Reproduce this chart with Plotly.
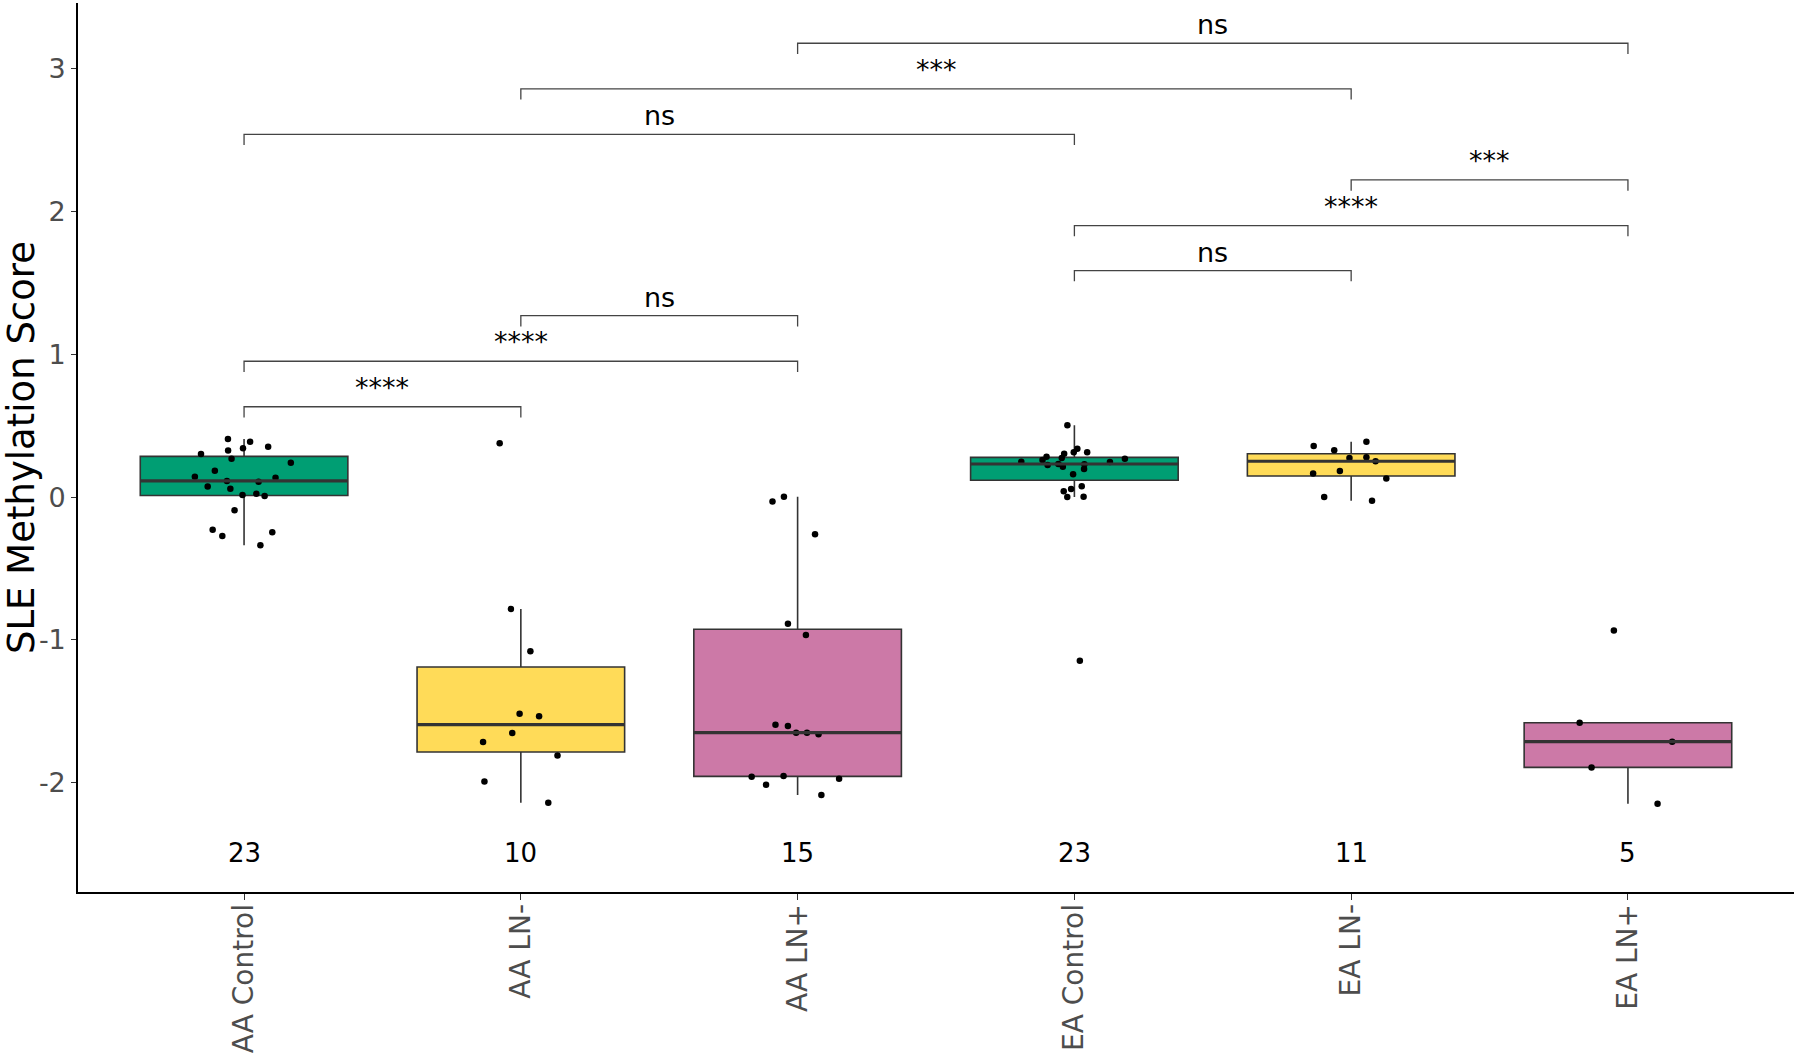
import numpy as np
import plotly.graph_objects as go

categories = ["AA Control", "AA LN-", "AA LN+", "EA Control", "EA LN-", "EA LN+"]

aa_control = [0.407, 0.388, 0.353, 0.343, 0.327, 0.302, 0.268, 0.240, 0.185, 0.143, 0.135, 0.113,
              0.108, 0.075, 0.059, 0.024, 0.015, 0.008, -0.093, -0.228, -0.247, -0.273, -0.338]
aa_ln_neg = [0.378, -0.784, -1.081, -1.518, -1.536, -1.653, -1.716, -1.810, -1.992, -2.141]
aa_ln_pos = [0.003, -0.030, -0.261, -0.887, -0.966, -1.595, -1.604, -1.651, -1.651, -1.662,
             -1.954, -1.959, -1.973, -2.015, -2.088]
ea_control = [0.503, 0.339, 0.314, 0.314, 0.304, 0.283, 0.274, 0.269, 0.260, 0.248, 0.246, 0.231,
              0.232, 0.225, 0.213, 0.197, 0.160, 0.076, 0.057, 0.041, 0.003, 0.001, -1.146]
ea_ln_neg = [0.388, 0.358, 0.328, 0.279, 0.274, 0.251, 0.183, 0.166, 0.130, 0.001, -0.025]
ea_ln_pos = [-0.934, -1.581, -1.714, -1.894, -2.149]

groups = [aa_control, aa_ln_neg, aa_ln_pos, ea_control, ea_ln_neg, ea_ln_pos]
colors = ["#009E73", "#FFDB58", "#CC79A7", "#009E73", "#FFDB58", "#CC79A7"]

# significance comparisons: (group a, group b, label, bracket height)
comp_a = [0, 0, 1, 3, 3, 4, 0, 1, 2]
comp_b = [1, 2, 2, 4, 5, 5, 3, 4, 5]
comp_labels = ["****", "****", "ns", "ns", "****", "***", "ns", "***", "ns"]
comp_y = [0.633, 0.952, 1.271, 1.587, 1.902, 2.222, 2.542, 2.860, 3.180]

y_tickvals = [-2, -1, 0, 1, 2, 3]
y_ticktext = ["-2", "-1", "0", "1", "2", "3"]

COUNT_Y = -2.494
BOX_W = 0.75
TIP = 0.075
FONT = "DejaVu Sans"

fig = go.Figure()
shapes = []
annotations = []

for i, (cat, vals, col) in enumerate(zip(categories, groups, colors)):
    v = np.array(vals)
    q1, med, q3 = np.percentile(v, [25, 50, 75])
    iqr = q3 - q1
    lf = v[v >= q1 - 1.5 * iqr].min()
    uf = v[v <= q3 + 1.5 * iqr].max()
    fig.add_trace(go.Box(
        x=[cat], q1=[q1], median=[med], q3=[q3], lowerfence=[lf], upperfence=[uf],
        width=BOX_W, whiskerwidth=0, fillcolor=col, line=dict(color="#333333", width=1.6),
        boxpoints=False, showlegend=False, hoverinfo="skip"))
    shapes.append(dict(type="line", xref="x", yref="y", x0=i - BOX_W / 2, x1=i + BOX_W / 2,
                       y0=med, y1=med, line=dict(color="#333333", width=3.2), layer="above"))
    fig.add_trace(go.Box(
        x=[cat] * len(vals), y=vals, boxpoints="all", jitter=0.55, pointpos=0, width=BOX_W,
        whiskerwidth=0, fillcolor="rgba(0,0,0,0)", line=dict(width=0, color="rgba(0,0,0,0)"),
        marker=dict(color="black", size=6.5), showlegend=False, hoveron="points"))
    annotations.append(dict(x=cat, y=COUNT_Y, text=str(len(vals)), showarrow=False,
                            xref="x", yref="y", font=dict(family=FONT, size=26, color="black")))

for a, b, lab, yy in zip(comp_a, comp_b, comp_labels, comp_y):
    shapes.append(dict(type="path", xref="x", yref="y",
                       path=f"M {a},{yy - TIP} L {a},{yy} L {b},{yy} L {b},{yy - TIP}",
                       line=dict(color="#444444", width=1.3)))
    annotations.append(dict(x=(a + b) / 2, y=yy, text=lab, showarrow=False, xref="x", yref="y",
                            yanchor="bottom", yshift=1 if lab == "ns" else 2,
                            font=dict(family=FONT, size=27, color="black")))

fig.update_layout(
    width=1800, height=1060,
    margin=dict(l=78, r=6, t=3, b=168),
    plot_bgcolor="white", paper_bgcolor="white",
    boxgap=0.25, boxmode="overlay",
    shapes=shapes, annotations=annotations,
    font=dict(family=FONT),
)
fig.update_xaxes(
    type="category", categoryorder="array", categoryarray=categories,
    range=[-0.6, 5.6], showline=True, linecolor="black", linewidth=1.6,
    ticks="outside", ticklen=6, tickcolor="#333333", tickwidth=1.4, tickangle=-90,
    ticklabelstandoff=-7,
    tickfont=dict(family=FONT, size=28, color="#4D4D4D"), showgrid=False, automargin=False)
fig.update_yaxes(
    range=[-2.767, 3.462], showline=True, linecolor="black", linewidth=1.6,
    tickvals=y_tickvals, ticktext=y_ticktext,
    ticks="outside", ticklen=5, tickcolor="#333333", tickwidth=1.4,
    tickfont=dict(family=FONT, size=27, color="#4D4D4D"), showgrid=False, zeroline=False,
    title=dict(text="SLE Methylation Score", font=dict(family=FONT, size=37, color="black"),
               standoff=4),
    automargin=False)

fig.write_html("out.html", config={"displayModeBar": False},
               post_script="document.body.style.margin='0px';")
